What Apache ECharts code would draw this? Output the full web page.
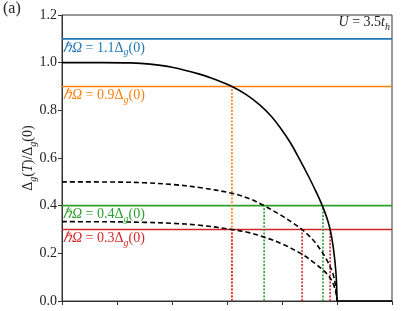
<!DOCTYPE html>
<html><head><meta charset="utf-8">
<script src="https://cdn.jsdelivr.net/npm/echarts@6/dist/echarts.min.js"></script>
<style>html,body{margin:0;padding:0;background:#fff}#c{width:415px;height:311px}</style>
</head><body><div id="c"></div>
<script>
// T / Tc values and gap ratios
const solidCurve = [[0,1.0],[0.15,1.0],[0.25,0.999],[0.32,0.994],[0.4,0.981],[0.5,0.952],[0.56,0.928],[0.618,0.9],[0.67,0.866],[0.72,0.822],[0.76,0.776],[0.793,0.728],[0.83,0.665],[0.865,0.592],[0.9,0.515],[0.924,0.458],[0.94,0.418],[0.955,0.375],[0.967,0.335],[0.977,0.29],[0.986,0.228],[0.993,0.16],[0.998,0.085],[1.0,0]];
const solidTail = [[1.0,0],[1.2,0]];
const upperDashed = [[0,0.5],[0.2,0.499],[0.3,0.496],[0.4,0.489],[0.5,0.476],[0.618,0.452],[0.68,0.43],[0.735,0.40],[0.793,0.362],[0.84,0.327],[0.873,0.30],[0.913,0.256],[0.94,0.215],[0.964,0.17],[0.985,0.115],[0.995,0.06],[1.0,0]];
const lowerDashed = [[0,0.333],[0.2,0.332],[0.3,0.330],[0.4,0.326],[0.5,0.318],[0.618,0.30],[0.68,0.287],[0.735,0.268],[0.8,0.24],[0.873,0.196],[0.92,0.158],[0.964,0.113],[0.985,0.075],[0.997,0.03],[1.0,0]];
const photonLevels = [1.1, 0.9, 0.4, 0.3];
const photonLabels = ['1.1', '0.9', '0.4', '0.3'];
const photonColors = ['#1f77b4', '#ff7f0e', '#2ca02c', '#d62728'];
// crossing temperatures (dotted drop lines): [x, level index]
const dropLines = [[0.618, 1], [0.618, 3], [0.735, 2], [0.873, 3], [0.949, 2], [0.975, 3]];

const serif = 'Liberation Serif';
function richFor(col, size){
  return {
    m: {fontFamily: serif, fontStyle: 'italic', fontSize: size, color: col, fill: col, lineHeight: 16},
    r: {fontFamily: serif, fontSize: size, color: col, fill: col, lineHeight: 16},
    s: {fontFamily: serif, fontStyle: 'italic', fontSize: 10, color: col, fill: col, verticalAlign: 'bottom', lineHeight: 10, padding: [0,0,-2,0]}
  };
}

const series = [];
photonLevels.forEach((lv, i) => {
  series.push({
    type: 'line', symbol: 'none', silent: true, z: 2,
    lineStyle: {color: photonColors[i], width: 1.6},
    data: [[0, lv], [1.2, lv]]
  });
  series.push({
    type: 'line', symbolSize: 0, showSymbol: true, silent: true, z: 10,
    lineStyle: {opacity: 0}, itemStyle: {color: photonColors[i]},
    data: [
      {value: [0, lv], label: {show: true, position: 'right', distance: 1, offset: [0, 9],
        formatter: '{m|ℏΩ}{r| = ' + photonLabels[i] + 'Δ}{s|g}{r|(0)}', rich: richFor(photonColors[i], 14)}}
    ]
  });
});
dropLines.forEach(d => {
  const lv = photonLevels[d[1]];
  series.push({
    type: 'line', symbol: 'none', silent: true, z: d[1] === 1 ? 3 : 4,
    lineStyle: {color: photonColors[d[1]], width: 1.6, type: [2, 1.5]},
    data: [[d[0], 0], [d[0], lv]]
  });
});
[solidCurve, solidTail].forEach(c => series.push({type: 'line', symbol: 'none', smooth: 0.35, z: 5, silent: true,
  lineStyle: {color: '#000', width: 1.6}, data: c}));
[upperDashed, lowerDashed].forEach(c => series.push({type: 'line', symbol: 'none', smooth: 0.35, z: 5, silent: true,
  lineStyle: {color: '#000', width: 1.6, type: [5, 3]}, data: c}));

const chart = echarts.init(document.getElementById('c'), null, {renderer: 'canvas'});
chart.setOption({
  animation: false,
  backgroundColor: '#fff',
  grid: {left: 62, right: 23, top: 15, bottom: 10, show: true, borderColor: '#333', borderWidth: 1, backgroundColor: 'transparent'},
  xAxis: {type: 'value', min: 0, max: 1.2, interval: 0.2,
    axisLine: {show: true, onZero: false, lineStyle: {color: '#333', width: 1}},
    axisTick: {show: true, inside: false, length: 4, lineStyle: {color: '#333'}},
    axisLabel: {show: false}, splitLine: {show: false}},
  yAxis: {type: 'value', min: 0, max: 1.2, interval: 0.2,
    axisLine: {show: true, lineStyle: {color: '#333', width: 1}},
    axisTick: {show: true, inside: false, length: 4, lineStyle: {color: '#333'}},
    axisLabel: {fontFamily: serif, fontSize: 14, color: '#222', margin: 5,
      formatter: v => v.toFixed(1)},
    splitLine: {show: false}
  },
  graphic: [
    {type: 'text', left: 3, top: 1, style: {text: '(a)', font: '16px "Liberation Serif"', fill: '#222'}},
    {type: 'text', x: 28, y: 158, rotation: Math.PI / 2, style: {
      text: '{r|Δ}{s|g}{r|(}{m|T}{r|)/Δ}{s|g}{r|(0)}', align: 'center', verticalAlign: 'middle',
      rich: richFor('#222', 14)}},
    {type: 'text', right: 25, top: 15, style: {
      text: '{m|U}{r| = 3.5}{m|t}{s|h}', rich: richFor('#222', 14)}}
  ],
  series: series
});
</script></body></html>
